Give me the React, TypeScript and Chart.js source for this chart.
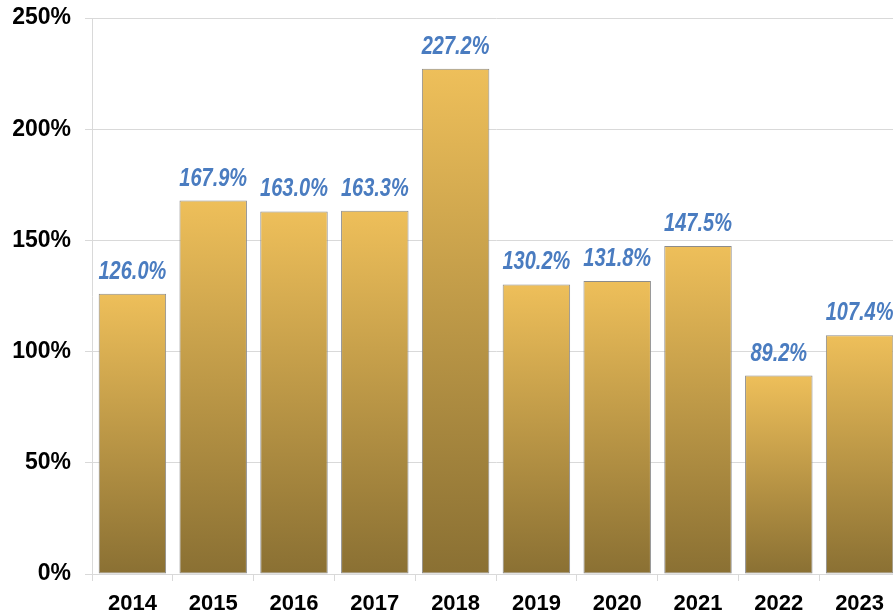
import React, { useEffect, useRef } from "react";
import { Chart, registerables } from "chart.js";

Chart.register(...registerables);

const years = ["2014", "2015", "2016", "2017", "2018", "2019", "2020", "2021", "2022", "2023"];
const values = [126.0, 167.9, 163.0, 163.3, 227.2, 130.2, 131.8, 147.5, 89.2, 107.4];
const yTicks = [0, 50, 100, 150, 200, 250];

const labelPlugin = {
  id: "valueLabels",
  afterDatasetsDraw(chart: any) {
    const ctx = chart.ctx;
    const meta = chart.getDatasetMeta(0);
    meta.data.forEach((bar: any, i: number) => {
      ctx.save();
      ctx.font = "italic bold 25px 'Liberation Sans', Arial, sans-serif";
      ctx.fillStyle = "#4A7CC0";
      ctx.textAlign = "center";
      ctx.textBaseline = "alphabetic";
      ctx.translate(bar.x, bar.y - 15);
      ctx.scale(0.8, 1);
      ctx.fillText(values[i].toFixed(1) + "%", 0, 0);
      ctx.restore();
    });
  },
};

export default function App() {
  const ref = useRef<HTMLCanvasElement>(null);
  useEffect(() => {
    const canvas = ref.current!;
    const chart = new Chart(canvas, {
      type: "bar",
      data: {
        labels: years,
        datasets: [
          {
            data: values,
            backgroundColor: (c: any) => {
              const ch = c.chart;
              const ys = ch.scales && ch.scales.y;
              if (!ys || c.parsed == null || c.parsed.y == null) return "#C9A14A";
              const top = ys.getPixelForValue(c.parsed.y);
              const bot = ys.getPixelForValue(0);
              if (!isFinite(top) || !isFinite(bot) || top === bot) return "#C9A14A";
              const g = ch.ctx.createLinearGradient(0, top, 0, bot);
              g.addColorStop(0, "#EEBF5A");
              g.addColorStop(1, "#8A7033");
              return g;
            },
            borderColor: "#8C8C8C",
            borderWidth: 1,
            borderSkipped: false,
            categoryPercentage: 1,
            barPercentage: 0.835,
          },
        ],
      },
      options: {
        animation: false,
        responsive: false,
        maintainAspectRatio: false,
        layout: { padding: { top: 18, right: 0, bottom: 0, left: 0 } },
        plugins: { legend: { display: false }, tooltip: { enabled: false } },
        scales: {
          x: {
            offset: true,
            grid: {
              display: true,
              drawOnChartArea: false,
              drawTicks: true,
              tickLength: 7,
              color: "#D9D9D9",
              offset: true,
            },
            border: { color: "#D9D9D9" },
            ticks: {
              color: "#000",
              padding: 10,
              font: { family: "'Liberation Sans', Arial, sans-serif", size: 22, weight: "bold" },
            },
            afterFit: (s: any) => {
              s.height = 40;
              s.paddingLeft = 0;
              s.paddingRight = 0;
            },
          },
          y: {
            min: 0,
            max: 250,
            afterBuildTicks: (s: any) => {
              s.ticks = yTicks.map((v) => ({ value: v }));
            },
            grid: { color: "#D9D9D9", tickLength: 7 },
            border: { color: "#D9D9D9" },
            ticks: {
              color: "#000",
              padding: 14,
              callback: (v: any) => v + "%",
              font: { family: "'Liberation Sans', Arial, sans-serif", size: 23, weight: "bold" },
            },
            afterFit: (s: any) => {
              s.width = 92;
              s.paddingTop = 0;
              s.paddingBottom = 0;
            },
          },
        },
      },
      plugins: [labelPlugin],
    });
    return () => chart.destroy();
  }, []);
  return (
    <div
      style={{
        position: "fixed",
        left: 0,
        top: 0,
        width: 893,
        height: 614,
        overflow: "hidden",
        background: "#fff",
      }}
    >
      <canvas ref={ref} width={900} height={614} style={{ width: 900, height: 614, display: "block" }} />
    </div>
  );
}
